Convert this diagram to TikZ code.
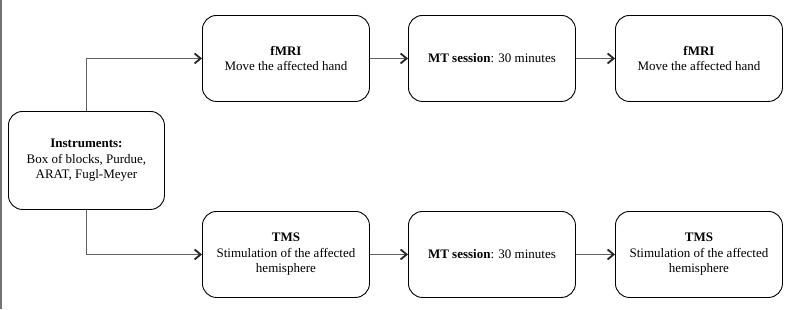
\documentclass[tikz,border=0pt]{standalone}
\usepackage{fontspec}
\setmainfont{Liberation Serif}
\usetikzlibrary{arrows.meta}
\begin{document}
\begin{tikzpicture}[x=1pt,y=-1pt,
  box/.style={draw=black,line width=0.9pt,rounded corners=14pt,minimum width=167pt,minimum height=86pt,anchor=north west,align=center,font=\fontsize{13}{15.5}\selectfont,inner sep=0pt},
  ibox/.style={box,minimum width=156pt,minimum height=98pt},
  conn/.style={draw=black!62,line width=1.4pt,-{Straight Barb[length=6pt,width=10pt,line width=1.8pt,color=black!85]}}]
\useasboundingbox (0,0) rectangle (792,309);
\draw[black!55,line width=1.5pt] (0.75,0) -- (0.75,309);
\node[ibox] (ins) at (8,111) {\textbf{Instruments:}\\Box of blocks, Purdue,\\ARAT, Fugl-Meyer};
\node[box] (f1) at (202,15) {\textbf{fMRI}\\Move the affected hand};
\node[box] (m1) at (408,15) {\textbf{MT session}: 30 minutes};
\node[box] (f2) at (615,15) {\textbf{fMRI}\\Move the affected hand};
\node[box] (t1) at (202,211) {\textbf{TMS}\\Stimulation of the affected\\hemisphere};
\node[box] (m2) at (408,211) {\textbf{MT session}: 30 minutes};
\node[box] (t2) at (615,211) {\textbf{TMS}\\Stimulation of the affected\\hemisphere};
\draw[conn] (ins.north) |- (f1.west);
\draw[conn] (ins.south) |- (t1.west);
\draw[conn] (f1) -- (m1);
\draw[conn] (m1) -- (f2);
\draw[conn] (t1) -- (m2);
\draw[conn] (m2) -- (t2);
\end{tikzpicture}
\end{document}
